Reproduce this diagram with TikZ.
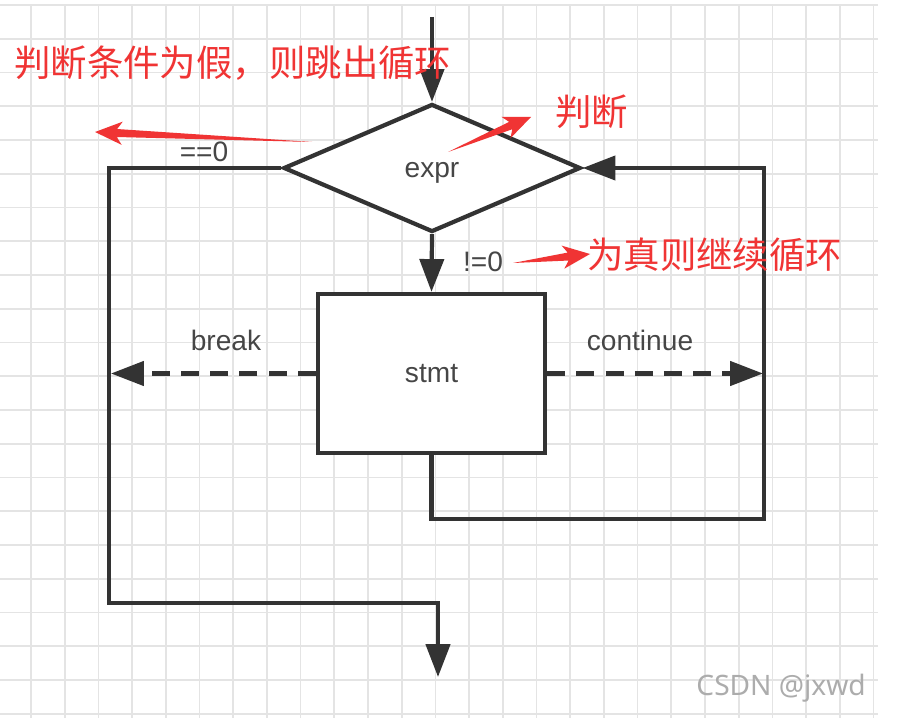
\documentclass[tikz,border=0pt]{standalone}
\usepackage{fontspec}
\setmainfont{Liberation Sans}
\newfontfamily\cjkfont{Noto Sans CJK SC}
\newfontfamily\wmfont{Noto Sans}
\usepackage{xcolor}
\usepackage{tikz}
\usetikzlibrary{shapes.geometric, arrows.meta, calc}
\definecolor{flowgray}{RGB}{51, 51, 51}
\definecolor{labelgray}{RGB}{70, 70, 70}
\definecolor{notered}{RGB}{240, 52, 52}
\definecolor{gridgray}{RGB}{228, 228, 228}

\begin{document}
\begin{tikzpicture}[
    x=0.025cm, y=-0.025cm,
    gridline/.style={draw=gridgray, line width=1.2pt},
    decision/.style={diamond, draw=flowgray, fill=white, line width=3pt, minimum width=7.425cm, minimum height=3.2cm, inner sep=0pt, text=labelgray, font=\fontsize{20}{24}\selectfont},
    stmtbox/.style={rectangle, draw=flowgray, fill=white, line width=3pt, minimum width=5.675cm, minimum height=3.975cm, inner sep=0pt, text=labelgray, font=\fontsize{20}{24}\selectfont},
    lbl/.style={text=labelgray, font=\fontsize{20}{24}\selectfont, inner sep=0pt},
    flow/.style={draw=flowgray, line width=3pt, -{Triangle[length=0.82cm, width=0.6cm]}},
    flowdash/.style={flow, dash pattern=on 0.45cm off 0.28cm},
    note/.style={text=notered, font=\cjkfont\fontsize{25.9}{30}\selectfont, inner sep=0pt, anchor=west},
    wmtext/.style={text=gray!65, font=\wmfont\fontsize{20}{24}\selectfont, inner sep=0pt, anchor=east}
  ]
  \useasboundingbox (0,0) rectangle (902,722);
  \fill[white] (0,0) rectangle (902,722);

  % background grid
  \foreach \k in {0,...,25}
    \draw[gridline] ({31+33.7*\k},5) -- ({31+33.7*\k},718);
  \foreach \k in {0,...,21}
    \draw[gridline] (0,{5+33.75*\k}) -- (878,{5+33.75*\k});

  % Test and loop body
  \node[decision, text height=1ex, text depth=0pt] (expr) at (432,168) {\raisebox{-0.15cm}{expr}};
  \node[stmtbox] (stmt) at (431.5,373.5) {stmt};

  % Branch labels
  \node[lbl] (eqzero) at (204,152) {==0};
  \node[lbl] (nezero) at (483,262) {!=0};
  \node[lbl] (brklbl) at (226,340) {break};
  \node[lbl] (contlbl) at (640,340) {continue};

  % Free ends and corners
  \coordinate (entry) at (432,17);
  \coordinate (leftturn) at (109,603);
  \coordinate (exit) at (438,677);
  \coordinate (brkend) at (111,373.5);
  \coordinate (contend) at (763,373.5);
  \coordinate (loopturn) at (764,519);

  % Connections
  \draw[flow] (entry) -- (expr.north);
  \draw[flow] (expr.south) -- (stmt.north);
  \draw[flow] (expr.west) -| (leftturn) -| (exit);
  \draw[flowdash] (stmt.west) -- (brkend);
  \draw[flowdash] (stmt.east) -- (contend);
  \draw[flow] (stmt.south) |- (loopturn) |- (expr.east);

  % Red notes
  \node[note] (falsenote) at (14,63) {判断条件为假，则跳出循环};
  \node[note] (judgenote) at (555,112) {判断};
  \node[note] (truenote) at (587,255) {为真则继续循环};

  \coordinate (falsetail) at (312,142);
  \coordinate (falsetip) at (95,132);
  \coordinate (judgetail) at (448,152);
  \coordinate (judgetip) at (531,117);
  \coordinate (truetail) at (513,263);
  \coordinate (truetip) at (590,254);
  \foreach \tail/\tip in {falsetail/falsetip, judgetail/judgetip, truetail/truetip} {
    \coordinate (neck) at ($(\tip)!0.55cm!(\tail)$);
    \coordinate (barb) at ($(\tip)!0.68cm!(\tail)$);
    \fill[notered] (\tail) -- ($(neck)!0.1cm!90:(\tip)$) -- ($(barb)!0.29cm!90:(\tip)$)
      -- (\tip) -- ($(barb)!0.29cm!-90:(\tip)$) -- ($(neck)!0.1cm!-90:(\tip)$) -- cycle;
  }

  % Watermark
  \node[wmtext] (csdn) at (866,688) {CSDN @jxwd};
\end{tikzpicture}
\end{document}
